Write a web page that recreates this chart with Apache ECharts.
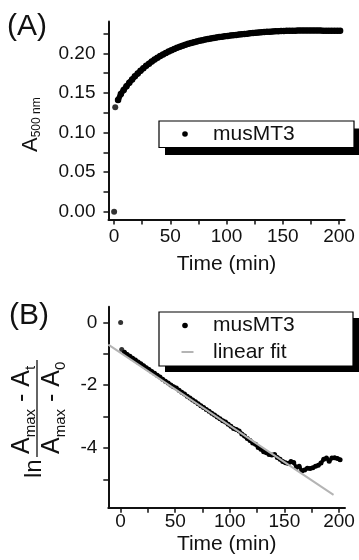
<!DOCTYPE html>
<html>
<head>
<meta charset="utf-8">
<script src="https://cdn.jsdelivr.net/npm/echarts@6/dist/echarts.min.js"></script>
<style>
  html, body { margin: 0; padding: 0; background: #fff; }
  #chart { width: 359px; height: 560px; }
</style>
</head>
<body>
<div id="chart"></div>
<script>
// first two readings, drawn as loose dots
const startTime = [0, 1];
const startAbs = [0, 0.132];
const startLn = [0, -0.86];

// sampling times (min) of the continuous run, shared by both panels
const times = [
  3.5, 6, 8.5, 11, 13.5, 16, 18.5, 21, 23.5, 26,
  28.5, 31, 33.5, 36, 38.5, 41, 43.5, 46, 48.5, 51,
  53.5, 56, 58.5, 61, 63.5, 66, 68.5, 71, 73.5, 76,
  78.5, 81, 83.5, 86, 88.5, 91, 93.5, 96, 98.5, 101,
  103.5, 106, 108.5, 111, 113.5, 116, 118.5, 121, 123.5, 126,
  128.5, 131, 133.5, 136, 138.5, 141, 143.5, 146, 148.5, 151,
  153.5, 156, 158.5, 161, 163.5, 166, 168.5, 171, 173.5, 176,
  178.5, 181, 183.5, 186, 188.5, 191, 193.5, 196, 198.5, 201];

// (A) absorbance at 500 nm
const absorbance = [
  0.1410, 0.1487, 0.1537, 0.1585, 0.1629, 0.1670, 0.1709, 0.1745, 0.1779, 0.1811,
  0.1841, 0.1869, 0.1896, 0.1920, 0.1943, 0.1965, 0.1985, 0.2004, 0.2022, 0.2039,
  0.2054, 0.2069, 0.2083, 0.2096, 0.2108, 0.2119, 0.2129, 0.2139, 0.2149, 0.2157,
  0.2166, 0.2173, 0.2180, 0.2187, 0.2193, 0.2199, 0.2205, 0.2210, 0.2215, 0.2219,
  0.2224, 0.2228, 0.2232, 0.2236, 0.2240, 0.2244, 0.2248, 0.2252, 0.2256, 0.2259,
  0.2262, 0.2265, 0.2268, 0.2271, 0.2273, 0.2275, 0.2277, 0.2279, 0.2280, 0.2282,
  0.2283, 0.2284, 0.2285, 0.2286, 0.2287, 0.2287, 0.2288, 0.2288, 0.2288, 0.2288,
  0.2287, 0.2287, 0.2287, 0.2286, 0.2286, 0.2286, 0.2285, 0.2285, 0.2285, 0.2285];

// (B) ln((Amax - At) / (Amax - A0))
const lnRatio = [
  -0.95, -1.02, -1.08, -1.14, -1.20, -1.26, -1.32, -1.38, -1.44, -1.50,
  -1.56, -1.62, -1.68, -1.74, -1.81, -1.87, -1.93, -1.99, -2.05, -2.09,
  -2.16, -2.22, -2.28, -2.35, -2.41, -2.47, -2.53, -2.59, -2.65, -2.71,
  -2.77, -2.83, -2.89, -2.95, -3.01, -3.07, -3.13, -3.17, -3.24, -3.31,
  -3.38, -3.41, -3.46, -3.55, -3.62, -3.70, -3.76, -3.84, -3.88, -3.98,
  -4.04, -4.12, -4.15, -4.21, -4.22, -4.21, -4.30, -4.36, -4.43, -4.47,
  -4.49, -4.43, -4.46, -4.62, -4.58, -4.73, -4.70, -4.64, -4.65, -4.63,
  -4.58, -4.55, -4.48, -4.36, -4.32, -4.42, -4.32, -4.31, -4.33, -4.37];

// linear fit end points
const fitTimes = [-11.3, 195];
const fitValues = [-0.71, -5.49];

// ticks
const timeTicks = [0, 25, 50, 75, 100, 125, 150, 175, 200];
const timeLabels = [0, 50, 100, 150, 200];
const absTicks = [0, 0.025, 0.05, 0.075, 0.1, 0.125, 0.15, 0.175, 0.2, 0.225];
const absLabels = [0, 0.05, 0.1, 0.15, 0.2];
const lnTicks = [0, -1, -2, -3, -4, -5];
const lnLabels = [0, -2, -4];

const FONT = "'Liberation Sans', Arial, sans-serif";
const INK = '#111';

const zip = (xs, ys) => xs.map((x, i) => [x, ys[i]]);

function timeAxis(gridIndex, min, max, labelMargin, nameGap) {
  return {
    type: 'value', gridIndex, min, max,
    name: 'Time (min)', nameLocation: 'middle', nameGap,
    nameTextStyle: { fontFamily: FONT, fontSize: 21, color: INK },
    axisLine: { onZero: false, lineStyle: { color: INK, width: 2 } },
    axisTick: { customValues: timeTicks, length: 5, lineStyle: { color: INK, width: 1.5 } },
    axisLabel: { customValues: timeLabels, margin: labelMargin, fontFamily: FONT, fontSize: 19, color: INK },
    splitLine: { show: false }
  };
}

function valueAxis(gridIndex, min, max, ticks, labels, labelMargin, fmt) {
  return {
    type: 'value', gridIndex, min, max,
    axisLine: { show: true, onZero: false, lineStyle: { color: INK, width: 2 } },
    axisTick: { show: true, customValues: ticks, length: 5, lineStyle: { color: INK, width: 1.5 } },
    axisLabel: { customValues: labels, margin: labelMargin, fontFamily: FONT, fontSize: 19, color: INK, formatter: fmt },
    splitLine: { show: false }
  };
}

const txt = (text, x, y, size, extra) => ({
  type: 'text', x, y,
  style: Object.assign({ text, fontFamily: FONT, fontSize: size, fill: INK,
    align: 'left', verticalAlign: 'middle', textAlign: 'left', textVerticalAlign: 'middle' }, extra || {})
});

const subRich = {
  b: { fontFamily: FONT, fontSize: 25, lineHeight: 32, color: INK, fill: INK },
  s: { fontFamily: FONT, fontSize: 15, lineHeight: 15, verticalAlign: 'bottom', color: INK, fill: INK }
};

function legendBox(x, y, w, h, dx, dy) {
  return [
    { type: 'rect', shape: { x: x + dx, y: y + dy, width: w, height: h }, style: { fill: '#000' } },
    { type: 'rect', shape: { x, y, width: w, height: h }, style: { fill: '#fff', stroke: '#000', lineWidth: 1.2 } }
  ];
}

const graphic = [
  txt('(A)', 7, 27, 30),
  txt('(B)', 9, 316, 30),
  // y name of (A)
  {
    type: 'group', x: 31, y: 152, rotation: Math.PI / 2,
    children: [
      { type: 'text', x: 0, y: 0, style: { text: '{a|A}{s|500 nm}', verticalAlign: 'middle', textVerticalAlign: 'middle',
        rich: {
          a: { fontFamily: FONT, fontSize: 22, lineHeight: 24, color: INK, fill: INK },
          s: { fontFamily: FONT, fontSize: 12, lineHeight: 12, verticalAlign: 'bottom', color: INK, fill: INK }
        } } }
    ]
  },
  // y name of (B)
  {
    type: 'group', x: 0, y: 478, rotation: Math.PI / 2,
    children: [
      txt('ln', 0, 34, 24),
      { type: 'text', x: 24, y: 22, style: { text: '{b|A}{s|max}{b| - A}{s|t}', verticalAlign: 'middle', textVerticalAlign: 'middle', rich: subRich } },
      { type: 'line', shape: { x1: 21, y1: 37, x2: 118, y2: 37 }, style: { stroke: INK, lineWidth: 1.3 } },
      { type: 'text', x: 24, y: 52, style: { text: '{b|A}{s|max}{b| - A}{s|0}', verticalAlign: 'middle', textVerticalAlign: 'middle', rich: subRich } }
    ]
  }
].concat(
  legendBox(159, 121, 195, 26.5, 6, 7.5),
  [
    { type: 'circle', shape: { cx: 185, cy: 134, r: 2.8 }, style: { fill: '#000' } },
    txt('musMT3', 213, 134, 21)
  ],
  legendBox(159, 312, 194, 54, 6, 6),
  [
    { type: 'circle', shape: { cx: 185, cy: 325.5, r: 2.8 }, style: { fill: '#000' } },
    txt('musMT3', 213, 325.5, 21),
    { type: 'line', shape: { x1: 181.5, y1: 352, x2: 193.5, y2: 352 }, style: { stroke: '#b4b4b4', lineWidth: 2 } },
    txt('linear fit', 213, 352, 21)
  ]
);

const dots = (xi, data, size) => ({
  type: 'scatter', xAxisIndex: xi, yAxisIndex: xi,
  data, symbolSize: size, itemStyle: { color: '#000' }
});

const trace = (xi, data, size, width) => ({
  name: 'musMT3', type: 'line', xAxisIndex: xi, yAxisIndex: xi,
  data, symbol: 'circle', symbolSize: size, showSymbol: true, showAllSymbol: true,
  itemStyle: { color: '#000' },
  lineStyle: { color: '#000', width, cap: 'round', join: 'round' }
});

const option = {
  animation: false,
  backgroundColor: '#fff',
  grid: [
    { left: 108.5, top: 21.6, width: 236.1, height: 198 },
    { left: 108.3, top: 306.7, width: 236.7, height: 201 }
  ],
  xAxis: [
    timeAxis(0, -5, 205, 8, 34),
    timeAxis(1, -11.3, 205.5, 5, 26)
  ],
  yAxis: [
    valueAxis(0, -0.01, 0.24, absTicks, absLabels, 13, v => v.toFixed(2)),
    valueAxis(1, -5.9, 0.5, lnTicks, lnLabels, 11, v => String(v))
  ],
  series: [
    dots(0, zip(startTime, startAbs), 6),
    trace(0, zip(times, absorbance), 6.5, 5.5),
    dots(1, zip(startTime, startLn), 5),
    trace(1, zip(times, lnRatio), 5, 3.5),
    {
      name: 'linear fit', type: 'line', xAxisIndex: 1, yAxisIndex: 1,
      data: zip(fitTimes, fitValues), showSymbol: false, symbol: 'none', z: 5,
      lineStyle: { color: '#b4b4b4', width: 2 }
    }
  ],
  graphic
};

const chart = echarts.init(document.getElementById('chart'));
chart.setOption(option);
</script>
</body>
</html>
